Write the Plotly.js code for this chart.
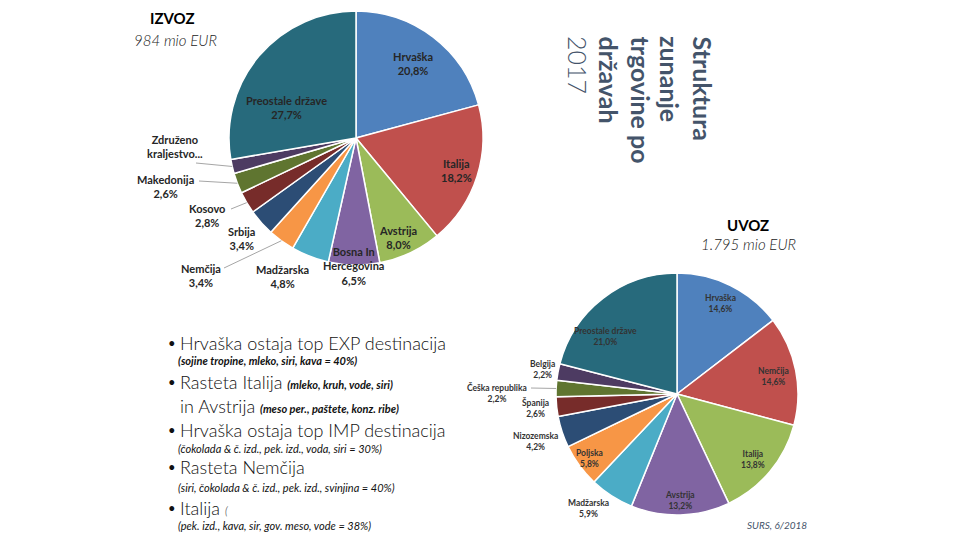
<!DOCTYPE html>
<html><head><meta charset="utf-8">
<script src="https://cdn.plot.ly/plotly-3.0.1.min.js"></script>
<style>html,body{margin:0;padding:0;background:#fff}#chart{width:960px;height:540px}</style>
</head><body><div id="chart"></div>
<script>
// ---------- data ----------
const exportLabels = ["Hrvaška","Italija","Avstrija","Bosna In Hercegovina","Madžarska","Nemčija","Srbija","Kosovo","Makedonija","Združeno kraljestvo","Preostale države"];
const exportValues = [20.8,18.2,8.0,6.5,4.8,3.4,3.4,2.8,2.6,1.8,27.7];
const exportLabelText = ["Hrvaška","Italija","Avstrija","Bosna In<br>Hercegovina","Madžarska","Nemčija","Srbija","Kosovo","Makedonija","Združeno<br>kraljestvo...","Preostale države"];
const exportShowPct = [true,true,true,true,true,true,true,true,true,false,true];

const importLabels = ["Hrvaška","Nemčija","Italija","Avstrija","Madžarska","Poljska","Nizozemska","Španija","Češka republika","Belgija","Preostale države"];
const importValues = [14.6,14.6,13.8,13.2,5.9,5.8,4.2,2.6,2.2,2.2,21.0];

const sliceColors = ["#4F81BD","#C0504D","#9BBB59","#8064A2","#4BACC6","#F79646","#2C4D75","#772C2A","#5F7530","#4D3B62","#276A7C"];

const titleLines = ["Struktura","zunanje","trgovine po","državah","2017"];

// ---------- layout helpers ----------
const W = 960, H = 540;
const px = (x) => x / W;
const py = (y) => 1 - y / H;
const pies = {
  exp: {cx: 356, cy: 138, r: 127},
  imp: {cx: 677, cy: 394, r: 121}
};
function domainOf(p){ return {x:[px(p.cx-p.r), px(p.cx+p.r)], y:[py(p.cy+p.r), py(p.cy-p.r)]}; }
function pct(v){ return v.toFixed(1).replace('.', ',') + '%'; }
function edgePoint(p, values, i){
  const tot = values.reduce((a,b)=>a+b,0);
  let cum = 0; for(let k=0;k<i;k++) cum += values[k];
  const th = 2*Math.PI*(cum + values[i]/2)/tot;
  return {x: p.cx + p.r*Math.sin(th), y: p.cy - p.r*Math.cos(th)};
}

// label placements (pixels)
const expLabelPos = [[413,63],[456,170],[398,237],[353,266],[282,276],[201,275],[241,238],[207,215],[165,186],[175,146],[286,108]];
const expLeaders = {5:[224,268], 7:[231,209], 8:[199,181], 9:[196,163]};
const impLabelPos = [[720,303],[773,376],[753,459],[680,500],[588,509],[589,458],[535,441],[535,408],[497,393],[542,369],[605,336]];
const impLeaders = {8:[531,388]};

const annotations = [];
const shapes = [];
const labelColor = "#262626";

exportLabels.forEach((l,i)=>{
  const txt = exportLabelText[i] + (exportShowPct[i] ? "<br>" + pct(exportValues[i]) : "");
  annotations.push({x:px(expLabelPos[i][0]), y:py(expLabelPos[i][1]), xref:'paper', yref:'paper',
    text:"<b>"+txt+"</b>", showarrow:false, xanchor:'center', yanchor:'middle',
    font:{family:'Lato, sans-serif', size:11, color:labelColor}});
  if(expLeaders[i]){
    const e = edgePoint(pies.exp, exportValues, i);
    shapes.push({type:'line', xref:'paper', yref:'paper', x0:px(expLeaders[i][0]), y0:py(expLeaders[i][1]),
      x1:px(e.x), y1:py(e.y), line:{color:'#A6A6A6', width:1}});
  }
});
importLabels.forEach((l,i)=>{
  annotations.push({x:px(impLabelPos[i][0]), y:py(impLabelPos[i][1]), xref:'paper', yref:'paper',
    text:"<b>"+l+"<br>"+pct(importValues[i])+"</b>", showarrow:false, xanchor:'center', yanchor:'middle',
    font:{family:'Lato, sans-serif', size:8.5, color:'#333333'}});
  if(impLeaders[i]){
    const e = edgePoint(pies.imp, importValues, i);
    shapes.push({type:'line', xref:'paper', yref:'paper', x0:px(impLeaders[i][0]), y0:py(impLeaders[i][1]),
      x1:px(e.x), y1:py(e.y), line:{color:'#A6A6A6', width:1}});
  }
});

function addText(x,y,text,font,xanchor){
  annotations.push({x:px(x), y:py(y), xref:'paper', yref:'paper', text:text, showarrow:false,
    xanchor:xanchor||'center', yanchor:'middle', font:font});
}
// titles
addText(172,18,"<b>IZVOZ</b>",{family:'Lato, sans-serif', size:15, color:'#000'});
addText(175,40,"<i>984 mio EUR</i>",{family:'Lato, sans-serif', size:15, color:'#222', weight:300});
addText(748,225,"<b>UVOZ</b>",{family:'Lato, sans-serif', size:15, color:'#000'});
addText(748,244,"<i>1.795 mio EUR</i>",{family:'Lato, sans-serif', size:15, color:'#222', weight:300});
addText(777,525,"<i>SURS, 6/2018</i>",{family:'Lato, sans-serif', size:10, color:'#44546A'});

// vertical title, one rotated line per column
const titleCols = [703,670,641,609,578];
titleLines.forEach((t,i)=>{
  annotations.push({x:px(titleCols[i]), y:py(34), xref:'paper', yref:'paper', showarrow:false, textangle:90,
    xanchor:'center', yanchor:'top', text: i<4 ? "<b>"+t+"</b>" : t,
    font:{family:'Lato, sans-serif', size:25, color:'#44546A', weight: i<4 ? 700 : 300}});
});

// bullets
const big = {family:'Lato, sans-serif', size:18, color:'#111', weight:300};
const small = {family:'Lato, sans-serif', size:11, color:'#111'};
const sm = (t, bold) => '<span style="font-size:11px"><i>' + (bold?'<b>'+t+'</b>':t) + '</i></span>';
const bulletRows = [343,382,430,467,508];
bulletRows.forEach(y=>addText(166,y,"•",{family:'Lato, sans-serif', size:13, color:'#111'},'left'));
addText(178,343,"Hrvaška ostaja top EXP destinacija",big,'left');
addText(176,360,"<i><b>(sojine tropine, mleko, siri, kava = 40%)</b></i>",small,'left');
addText(178,382,"Rasteta Italija " + sm("(mleko, kruh, vode, siri)",true),big,'left');
addText(178,406,"in Avstrija " + sm("(meso per., paštete, konz. ribe)",true),big,'left');
addText(178,430,"Hrvaška ostaja top IMP destinacija",big,'left');
addText(176,448,"<i>(čokolada & č. izd., pek. izd., voda, siri = 30%)</i>",small,'left');
addText(178,467,"Rasteta Nemčija",big,'left');
addText(176,487,"<i>(siri, čokolada & č. izd., pek. izd., svinjina = 40%)</i>",small,'left');
addText(178,508,"Italija " + sm("(",false),big,'left');
addText(176,525,"<i>(pek. izd., kava, sir, gov. meso, vode = 38%)</i>",small,'left');

const common = {type:'pie', sort:false, direction:'clockwise', rotation:0, textinfo:'none',
  hoverinfo:'label+percent', marker:{colors:sliceColors, line:{color:'#ffffff', width:1.5}}, showlegend:false};

const data = [
  Object.assign({}, common, {labels:exportLabels, values:exportValues, domain:domainOf(pies.exp), name:'IZVOZ'}),
  Object.assign({}, common, {labels:importLabels, values:importValues, domain:domainOf(pies.imp), name:'UVOZ'})
];

const layout = {width:W, height:H, margin:{l:0,r:0,t:0,b:0}, paper_bgcolor:'#fff',
  showlegend:false, annotations:annotations, shapes:shapes};

Plotly.newPlot('chart', data, layout, {displayModeBar:false, staticPlot:true});
</script></body></html>
